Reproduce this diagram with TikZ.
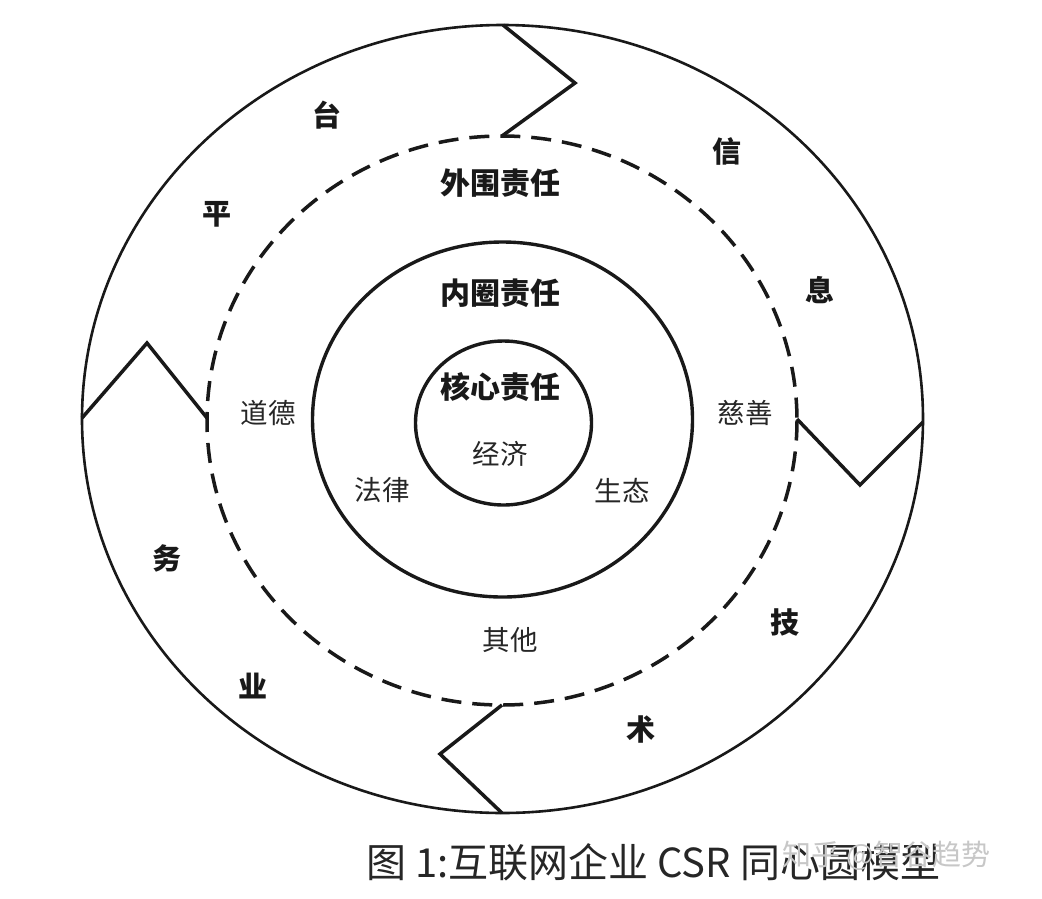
\documentclass[tikz,border=0pt]{standalone}
\usepackage{fontspec}
\newfontfamily\cjk{Noto Sans CJK SC}
\tikzset{
  ring/.style={line width=3.4pt, draw=black!90},
  outerring/.style={line width=2.6pt, draw=black!90},
  dashring/.style={line width=3.5pt, draw=black!90, dash pattern=on 20pt off 11pt},
  zig/.style={line width=3.5pt, draw=black!90, line join=miter},
  title/.style={font=\cjk\bfseries\fontsize{30}{30}\selectfont, text=black!90, inner sep=0pt},
  item/.style={font=\cjk\fontsize{27.5}{27.5}\selectfont, text=black!85, inner sep=0pt},
  ch/.style={font=\cjk\bfseries\fontsize{29}{29}\selectfont, text=black!90, inner sep=0pt},
  captext/.style={font=\cjk\fontsize{40}{40}\selectfont, text=black!85, inner sep=0pt, anchor=west},
  wmtext/.style={font=\cjk\fontsize{29}{29}\selectfont, text=black!22, inner sep=0pt, anchor=west}
}
\begin{document}
\begin{tikzpicture}[x=1pt, y=-1pt]
\useasboundingbox[fill=white] (0,0) rectangle (1042,898);
% circles
\draw[outerring] (502.5,419) ellipse [x radius=420.5, y radius=394];
\draw[dashring] (502,420.5) ellipse [x radius=295, y radius=284.5];
\draw[ring] (502.5,419.5) ellipse [x radius=190, y radius=177.5];
\draw[ring] (503.5,423) ellipse [x radius=88, y radius=82];
% zigzag arrows
\coordinate (t1) at (503,25);  \coordinate (t2) at (575,83);  \coordinate (t3) at (502,136);
\coordinate (r1) at (923,422); \coordinate (r2) at (860,485); \coordinate (r3) at (797,419);
\coordinate (b1) at (502,813); \coordinate (b2) at (440,754); \coordinate (b3) at (502,705);
\coordinate (l1) at (82,418);  \coordinate (l2) at (147,343); \coordinate (l3) at (207,418);
\draw[zig] (t1) -- (t2) -- (t3);
\draw[zig] (r1) -- (r2) -- (r3);
\draw[zig] (b1) -- (b2) -- (b3);
\draw[zig] (l1) -- (l2) -- (l3);
% ring titles
\node[title] (waiwei) at (500,183) {外围责任};
\node[title] (neiquan) at (500,293) {内圈责任};
\node[title] (hexin) at (500,387) {核心责任};
% items
\node[item] (jingji) at (500,454) {经济};
\node[item] (falv) at (382,490) {法律};
\node[item] (shengtai) at (622,491) {生态};
\node[item] (daode) at (268,413) {道德};
\node[item] (cishan) at (745,413) {慈善};
\node[item] (qita) at (510,640) {其他};
% outer characters
\node[ch] (ping) at (217,214) {平};
\node[ch] (tai) at (327,115) {台};
\node[ch] (xin) at (727,151) {信};
\node[ch] (xi) at (820,290) {息};
\node[ch] (ji) at (785,622) {技};
\node[ch] (shu) at (641,729) {术};
\node[ch] (ye) at (253,686) {业};
\node[ch] (wu) at (167,558) {务};
% caption and watermark
\node[captext] (caption) at (366,862) {图 1:互联网企业 CSR 同心圆模型};
\node[wmtext] (watermark) at (782,856) {知乎 @智谷趋势};
\end{tikzpicture}
\end{document}
